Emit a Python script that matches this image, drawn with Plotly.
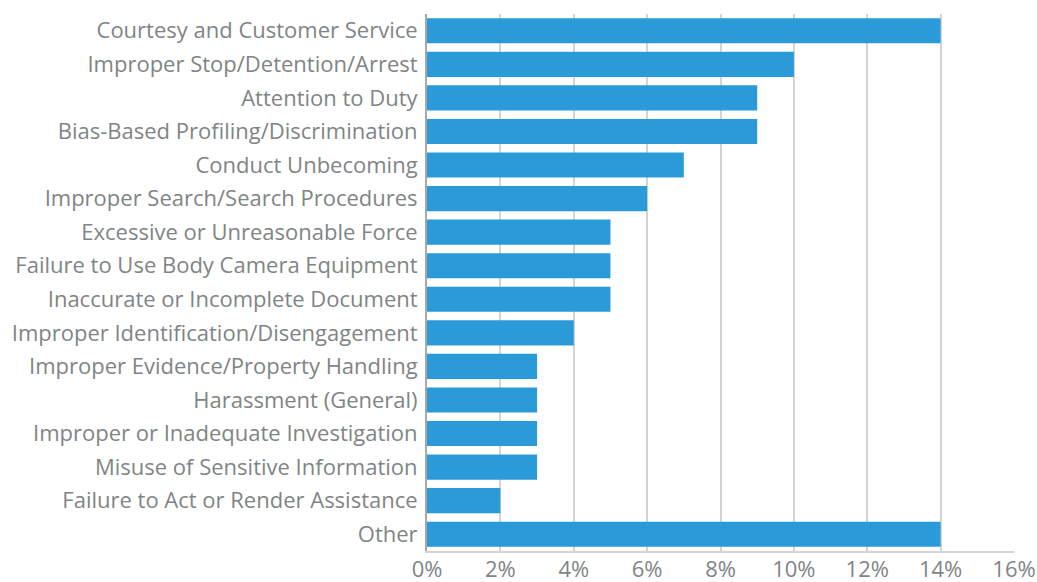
import plotly.graph_objects as go

categories = [
    "Courtesy and Customer Service",
    "Improper Stop/Detention/Arrest",
    "Attention to Duty",
    "Bias-Based Profiling/Discrimination",
    "Conduct Unbecoming",
    "Improper Search/Search Procedures",
    "Excessive or Unreasonable Force",
    "Failure to Use Body Camera Equipment",
    "Inaccurate or Incomplete Document",
    "Improper Identification/Disengagement",
    "Improper Evidence/Property Handling",
    "Harassment (General)",
    "Improper or Inadequate Investigation",
    "Misuse of Sensitive Information",
    "Failure to Act or Render Assistance",
    "Other",
]
shares = [0.14, 0.10, 0.09, 0.09, 0.07, 0.06, 0.05, 0.05, 0.05, 0.04, 0.03, 0.03, 0.03, 0.03, 0.02, 0.14]
x_ticks = [0, 0.02, 0.04, 0.06, 0.08, 0.10, 0.12, 0.14, 0.16]

text_color = "#7f8585"

fig = go.Figure(
    go.Bar(
        x=shares,
        y=categories,
        orientation="h",
        marker=dict(color="#2a9ad8", line=dict(width=0)),
    )
)

fig.update_layout(
    width=1037,
    height=582,
    margin=dict(l=427, r=23, t=14, b=31),
    paper_bgcolor="white",
    plot_bgcolor="white",
    bargap=0.25,
    font=dict(family="Open Sans", size=21, color=text_color),
    showlegend=False,
)
fig.update_xaxes(
    range=[0, 0.16],
    tickvals=x_ticks,
    tickformat=".0%",
    showgrid=True,
    gridcolor="#d4d4d4",
    gridwidth=2,
    zeroline=False,
    showline=True,
    linecolor="#d4d4d4",
    linewidth=2,
    ticks="",
    automargin=False,
    ticklabelstandoff=-2,
    tickfont=dict(size=22, color=text_color),
)
fig.update_yaxes(
    categoryorder="array",
    categoryarray=categories[::-1],
    showline=True,
    linecolor="#a8a8a8",
    linewidth=2,
    showgrid=False,
    ticks="",
    automargin=False,
    ticklabelstandoff=3,
    tickfont=dict(size=22, color=text_color),
)

fig.write_html("out.html")
